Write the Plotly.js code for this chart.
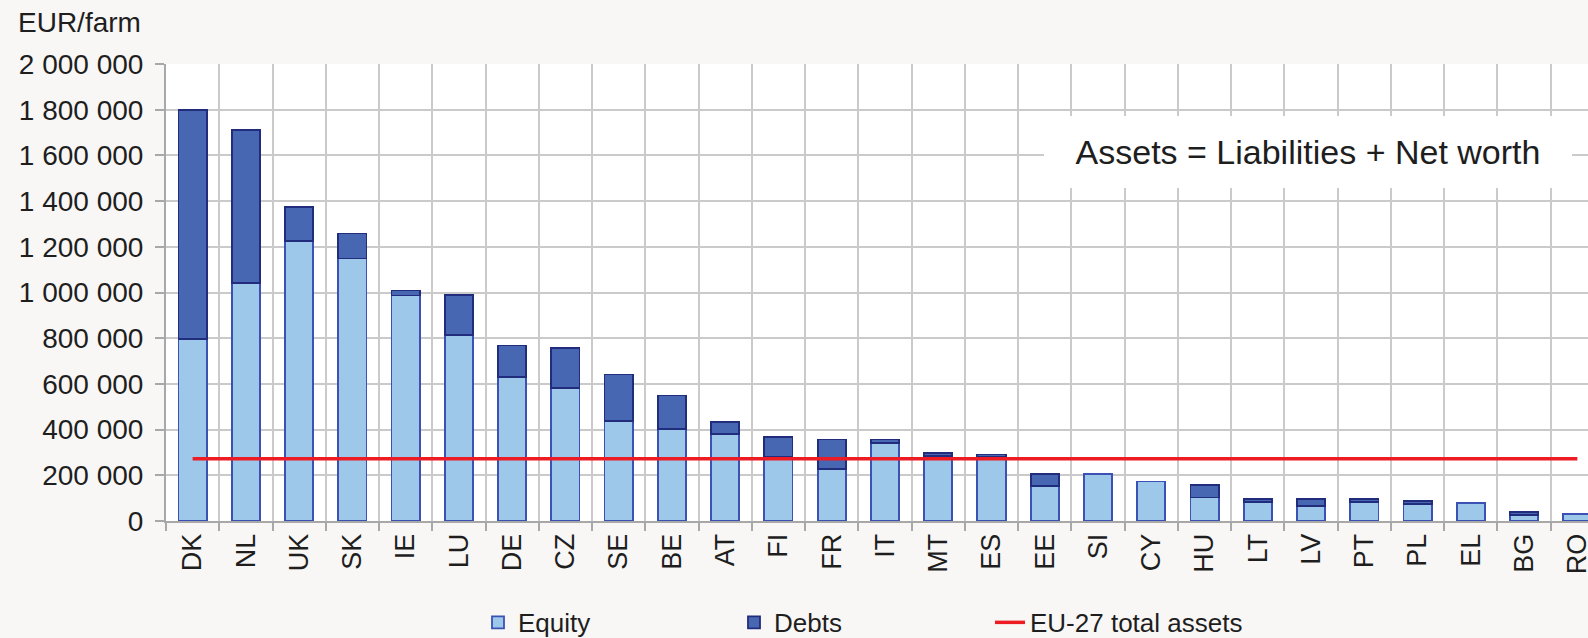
<!DOCTYPE html>
<html>
<head>
<meta charset="utf-8">
<script src="https://cdn.plot.ly/plotly-3.0.1.min.js"></script>
<style>
  html, body { margin: 0; padding: 0; background: #F8F7F5; }
  #chart { width: 1588px; height: 638px; }
</style>
</head>
<body>
<div id="chart"></div>
<script>
const countries = ["DK","NL","UK","SK","IE","LU","DE","CZ","SE","BE","AT","FI","FR","IT","MT","ES","EE","SI","CY","HU","LT","LV","PT","PL","EL","BG","RO"];
const equity = [795000,1043000,1225000,1149000,987000,813000,631000,583000,437000,401000,382000,280000,229000,342000,285000,280000,153000,204000,173000,103000,84000,65000,84000,73000,78000,26000,32000];
const debts  = [1005000,669000,148000,109000,22000,177000,137000,175000,204000,148000,51000,87000,128000,15000,14000,11000,51000,null,null,54000,13500,32500,13500,14000,null,14600,null];
const eu27TotalAssets = 272000;
const yTickVals = [0,200000,400000,600000,800000,1000000,1200000,1400000,1600000,1800000,2000000];
const yTickText = ["0","200 000","400 000","600 000","800 000","1 000 000","1 200 000","1 400 000","1 600 000","1 800 000","2 000 000"];

const FONT = "Liberation Sans, Arial, sans-serif";
const TXT = "#1E1E1E";

const traces = [
  {
    type: "bar", name: "Equity", x: countries, y: equity,
    marker: { color: "#9DC8EA", line: { color: "#3B52B4", width: 1.8 } },
    hoverinfo: "x+y"
  },
  {
    type: "bar", name: "Debts", x: countries, y: debts,
    marker: { color: "#4767B2", line: { color: "#222C7C", width: 1.8 } },
    hoverinfo: "x+y"
  },
  {
    type: "scatter", mode: "lines", name: "EU-27 total assets",
    x: [countries[0], countries[countries.length - 1]],
    y: [eu27TotalAssets, eu27TotalAssets],
    line: { color: "#ED1C24", width: 3.5 }
  }
];

const layout = {
  width: 1588, height: 638,
  paper_bgcolor: "#F8F7F5",
  plot_bgcolor: "#FFFFFF",
  margin: { l: 166, r: 0, t: 64, b: 117, autoexpand: false },
  barmode: "stack",
  bargap: 0.47,
  font: { family: FONT, color: TXT, size: 26 },
  showlegend: true,
  legend: {
    orientation: "h",
    x: (478 - 166) / 1422, xanchor: "left",
    y: -0.222, yanchor: "middle",
    entrywidth: 211, entrywidthmode: "pixels",
    font: { family: FONT, size: 26, color: TXT },
    bgcolor: "rgba(0,0,0,0)",
    traceorder: "normal"
  },
  xaxis: {
    type: "category",
    range: [-0.5, 26.2],
    tickson: "boundaries",
    ticks: "outside", ticklen: 8, tickwidth: 2, tickcolor: "#A8A8A8",
    tickangle: -90,
    tickfont: { family: FONT, size: 27, color: TXT },
    showgrid: true, gridcolor: "#CACACA", gridwidth: 2,
    showline: true, linecolor: "#A8A8A8", linewidth: 2,
    automargin: false, fixedrange: true
  },
  yaxis: {
    range: [0, 2000000],
    tickvals: yTickVals, ticktext: yTickText,
    ticks: "outside", ticklen: 9, tickwidth: 2, tickcolor: "#A8A8A8",
    ticklabelstandoff: 6,
    tickfont: { family: FONT, size: 28, color: TXT },
    showgrid: true, gridcolor: "#CACACA", gridwidth: 2,
    showline: true, linecolor: "#A8A8A8", linewidth: 2,
    zeroline: false,
    automargin: false, fixedrange: true
  },
  annotations: [
    {
      text: "Assets = Liabilities + Net worth",
      xref: "paper", yref: "paper",
      x: (1308 - 166) / 1422, y: (521.6 - 152) / 457.6,
      xanchor: "center", yanchor: "middle",
      width: 528, height: 72,
      align: "center", valign: "middle",
      bgcolor: "#FFFFFF", borderpad: 0, borderwidth: 0,
      showarrow: false,
      font: { family: FONT, size: 34, color: TXT }
    },
    {
      text: "EUR/farm",
      xref: "paper", yref: "paper",
      x: (16 - 166) / 1422, y: (521.6 - 22) / 457.6,
      xanchor: "left", yanchor: "middle",
      showarrow: false,
      font: { family: FONT, size: 28, color: TXT }
    }
  ]
};

Plotly.newPlot("chart", traces, layout, { displayModeBar: false, staticPlot: true });
</script>
</body>
</html>
